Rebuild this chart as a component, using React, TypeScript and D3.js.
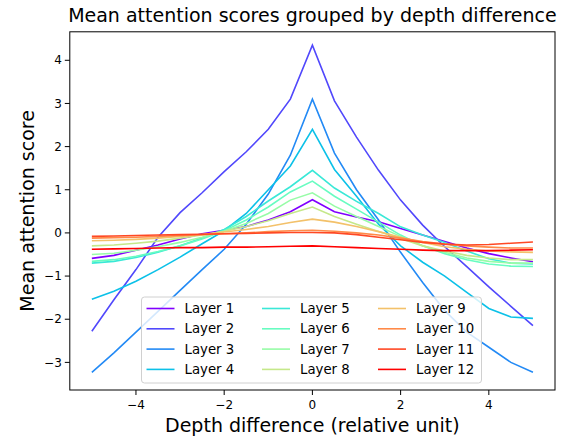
import React from "react";
import * as d3 from "d3";

const W = 566;
const H = 437;
const M = { left: 69.8, right: 555, top: 31.8, bottom: 390 };

const depthDiff = [-5, -4.5, -4, -3.5, -3, -2.5, -2, -1.5, -1, -0.5, 0, 0.5, 1, 1.5, 2, 2.5, 3, 3.5, 4, 4.5, 5];

const layer1 = [-0.59, -0.52, -0.4, -0.28, -0.14, -0.02, 0.06, 0.15, 0.3, 0.49, 0.77, 0.49, 0.37, 0.26, 0.1, -0.05, -0.2, -0.35, -0.48, -0.58, -0.67];
const layer2 = [-2.28, -1.55, -0.85, -0.1, 0.47, 0.93, 1.42, 1.88, 2.4, 3.1, 4.35, 3.06, 2.22, 1.45, 0.76, 0.18, -0.32, -0.78, -1.25, -1.7, -2.15];
const layer3 = [-3.23, -2.78, -2.3, -1.82, -1.33, -0.85, -0.38, 0.2, 0.9, 1.8, 3.1, 1.85, 1.0, 0.3, -0.45, -1.15, -1.8, -2.3, -2.65, -3.0, -3.23];
const layer4 = [-1.54, -1.35, -1.12, -0.85, -0.56, -0.25, 0.05, 0.45, 1.0, 1.55, 2.4, 1.47, 0.85, 0.2, -0.3, -0.68, -1.0, -1.38, -1.75, -1.95, -1.98];
const layer5 = [-0.7, -0.66, -0.57, -0.45, -0.3, -0.12, 0.08, 0.38, 0.74, 1.07, 1.45, 1.04, 0.73, 0.45, 0.14, -0.05, -0.22, -0.42, -0.6, -0.7, -0.72];
const layer6 = [-0.66, -0.62, -0.54, -0.43, -0.3, -0.14, 0.05, 0.3, 0.6, 0.95, 1.2, 0.85, 0.55, 0.25, -0.05, -0.3, -0.48, -0.62, -0.72, -0.77, -0.78];
const layer7 = [-0.5, -0.47, -0.4, -0.32, -0.22, -0.1, 0.04, 0.22, 0.45, 0.76, 0.93, 0.62, 0.38, 0.15, -0.08, -0.3, -0.45, -0.58, -0.66, -0.7, -0.7];
const layer8 = [-0.3, -0.28, -0.24, -0.19, -0.12, -0.05, 0.04, 0.15, 0.28, 0.45, 0.6, 0.38, 0.2, 0.03, -0.13, -0.3, -0.42, -0.52, -0.58, -0.62, -0.62];
const layer9 = [-0.18, -0.17, -0.15, -0.12, -0.08, -0.04, 0.02, 0.08, 0.15, 0.24, 0.32, 0.25, 0.15, 0.03, -0.1, -0.22, -0.32, -0.38, -0.42, -0.44, -0.45];
const layer10 = [-0.12, -0.11, -0.1, -0.08, -0.06, -0.04, -0.02, 0.0, 0.03, 0.05, 0.06, 0.04, 0.0, -0.05, -0.12, -0.2, -0.26, -0.3, -0.33, -0.35, -0.35];
const layer11 = [-0.08, -0.07, -0.06, -0.05, -0.04, -0.03, -0.02, -0.01, 0.0, 0.01, 0.01, 0.0, -0.04, -0.1, -0.16, -0.22, -0.26, -0.28, -0.27, -0.24, -0.21];
const layer12 = [-0.38, -0.37, -0.36, -0.35, -0.34, -0.34, -0.33, -0.33, -0.32, -0.31, -0.3, -0.32, -0.34, -0.36, -0.38, -0.4, -0.41, -0.41, -0.41, -0.4, -0.39];

const layerNames = ["Layer 1", "Layer 2", "Layer 3", "Layer 4", "Layer 5", "Layer 6", "Layer 7", "Layer 8", "Layer 9", "Layer 10", "Layer 11", "Layer 12"];
const layerValues = [layer1, layer2, layer3, layer4, layer5, layer6, layer7, layer8, layer9, layer10, layer11, layer12];

const xTicks = [-4, -2, 0, 2, 4];
const yTicks = [-3, -2, -1, 0, 1, 2, 3, 4];

// matplotlib "rainbow" colormap sampled at 12 evenly spaced points
const rainbow = (t: number) => {
  const clip = (v: number) => Math.max(0, Math.min(1, v));
  const r = clip(Math.abs(2 * t - 0.5));
  const g = clip(Math.sin(Math.PI * t));
  const b = clip(Math.cos((Math.PI / 2) * t));
  return d3.rgb(r * 255, g * 255, b * 255).formatHex();
};
const colors = layerNames.map((_, i) => rainbow(i / (layerNames.length - 1)));

const FONT = "'DejaVu Sans', sans-serif";
const fmt = (v: number) => (v < 0 ? "\u2212" + Math.abs(v) : String(v));

export default function App() {
  const x = d3.scaleLinear().domain([-5.5, 5.5]).range([M.left, M.right]);
  const y = d3.scaleLinear().domain([-3.64, 4.66]).range([M.bottom, M.top]);
  const line = d3
    .line<number>()
    .x((_, i) => x(depthDiff[i]))
    .y((v) => y(v));

  const legX = 141.5;
  const legY = 297;
  const legW = 340;
  const legH = 86;
  const colX = [0, 115.5, 231.5];
  const rowH = 20.3;

  return (
    <svg
      width={W}
      height={H}
      style={{ position: "absolute", left: 0, top: 0, background: "#fff" }}
      fontFamily={FONT}
    >
      <defs>
        <clipPath id="plot-area">
          <rect x={M.left} y={M.top} width={M.right - M.left} height={M.bottom - M.top} />
        </clipPath>
      </defs>
      <text x={(M.left + M.right) / 2} y={21.5} textAnchor="middle" fontSize={19} fill="#000">
        Mean attention scores grouped by depth difference
      </text>

      <g clipPath="url(#plot-area)">
        {layerValues.map((vals, i) => (
          <path key={layerNames[i]} d={line(vals) ?? ""} fill="none" stroke={colors[i]} strokeWidth={1.6} />
        ))}
      </g>

      {/* legend */}
      <g>
        <rect
          x={legX}
          y={legY}
          width={legW}
          height={legH}
          rx={3}
          fill="#fff"
          fillOpacity={0.8}
          stroke="#d0d0d0"
          strokeWidth={1}
        />
        {layerNames.map((name, i) => {
          const col = Math.floor(i / 4);
          const row = i % 4;
          const cx = legX + 5 + colX[col];
          const cy = legY + 11.5 + row * rowH;
          return (
            <g key={name}>
              <line x1={cx} x2={cx + 28} y1={cy} y2={cy} stroke={colors[i]} strokeWidth={1.6} />
              <text x={cx + 38} y={cy} dy="0.35em" fontSize={13.3} fill="#000">
                {name}
              </text>
            </g>
          );
        })}
      </g>

      {/* axes frame */}
      <rect
        x={M.left}
        y={M.top}
        width={M.right - M.left}
        height={M.bottom - M.top}
        fill="none"
        stroke="#000"
        strokeWidth={1}
      />

      {xTicks.map((t) => (
        <g key={"x" + t} transform={`translate(${x(t)},${M.bottom})`}>
          <line y1={0} y2={5} stroke="#000" strokeWidth={1} />
          <text y={19} textAnchor="middle" fontSize={12} fill="#000">
            {fmt(t)}
          </text>
        </g>
      ))}
      {yTicks.map((t) => (
        <g key={"y" + t} transform={`translate(${M.left},${y(t)})`}>
          <line x1={-5} x2={0} stroke="#000" strokeWidth={1} />
          <text x={-8} dy="0.35em" textAnchor="end" fontSize={12} fill="#000">
            {fmt(t)}
          </text>
        </g>
      ))}

      <text x={(M.left + M.right) / 2} y={432} textAnchor="middle" fontSize={19} fill="#000">
        Depth difference (relative unit)
      </text>
      <text
        transform={`translate(34,${(M.top + M.bottom) / 2}) rotate(-90)`}
        textAnchor="middle"
        fontSize={19}
        fill="#000"
      >
        Mean attention score
      </text>
    </svg>
  );
}
